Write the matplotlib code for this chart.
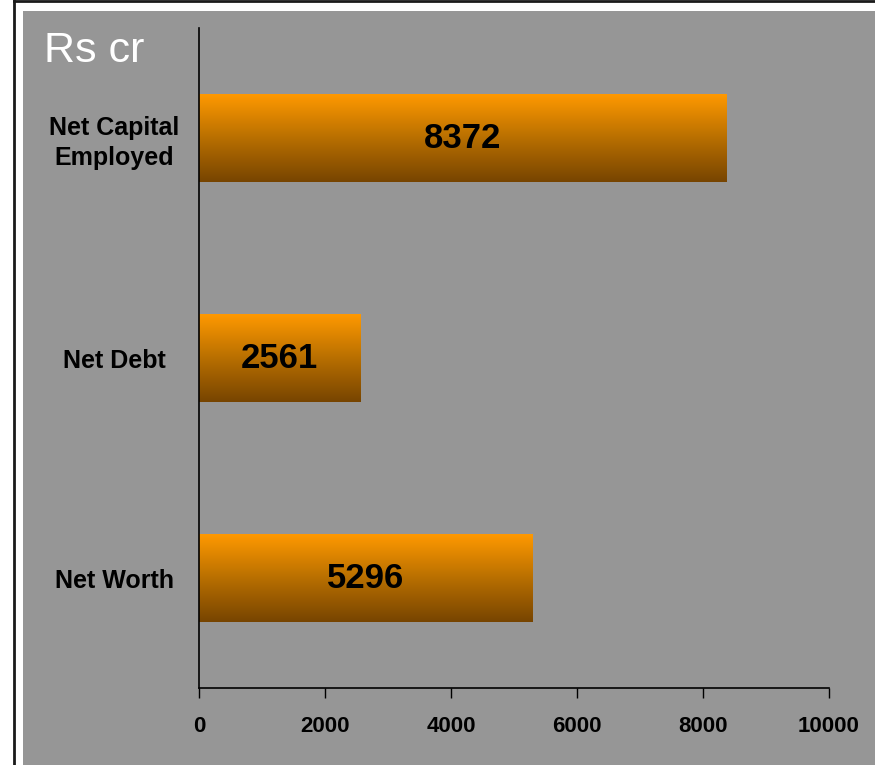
import numpy as np
import matplotlib
matplotlib.use("Agg")
from matplotlib import pyplot as plt
from matplotlib.colors import LinearSegmentedColormap
from matplotlib.patches import Rectangle
from matplotlib.lines import Line2D

plt.rcParams['font.family'] = ['Liberation Sans', 'DejaVu Sans']

# data (bottom to top)
categories = ['Net Worth', 'Net Debt', 'Net Capital\nEmployed']
values = [5296, 2561, 8372]
xticks = [0, 2000, 4000, 6000, 8000, 10000]
unit_label = 'Rs cr'

bg = '#969696'
bar_grad = LinearSegmentedColormap.from_list('bar', ['#774400', '#B86F00', '#FF9900'])

fig = plt.figure(figsize=(8.75, 7.65), dpi=100, facecolor='white')

# gray panel and outer frame
fig.patches.append(Rectangle((23 / 875, 0), 1, 1 - 11 / 765, transform=fig.transFigure,
                             facecolor=bg, edgecolor='none', zorder=-10))
fig.lines.append(Line2D([14 / 875, 14 / 875], [0, 1 - 1 / 765], transform=fig.transFigure,
                        color='#1a1a1a', lw=2, zorder=-5))
fig.lines.append(Line2D([14 / 875, 1], [1 - 1 / 765, 1 - 1 / 765], transform=fig.transFigure,
                        color='#1a1a1a', lw=2, zorder=-5))

ax = fig.add_axes([199 / 875, 1 - 688 / 765, 630 / 875, 660 / 765])
ax.set_facecolor('none')

ypos = np.arange(len(categories))
h = 0.4
grad = np.linspace(0, 1, 256).reshape(-1, 1)
for y, v in zip(ypos, values):
    ax.imshow(grad, cmap=bar_grad, aspect='auto', origin='upper',
              extent=(0, v, y + h / 2, y - h / 2), zorder=2)
    ax.text(v / 2, y, str(v), ha='center', va='center', fontsize=25,
            fontweight='bold', color='black', zorder=3)

ax.set_xlim(0, 10000)
ax.set_ylim(-0.5, 2.5)
ax.set_xticks(xticks)
ax.set_xticklabels([str(t) for t in xticks], fontsize=16, fontweight='bold')
ax.set_yticks(ypos)
ax.set_yticklabels(categories, fontsize=18, fontweight='bold', ha='center',
                   multialignment='center', linespacing=1.3)
ax.tick_params(axis='y', length=0, pad=61)
ax.tick_params(axis='x', length=7, width=1, pad=13)
for s in ['top', 'right']:
    ax.spines[s].set_visible(False)
for s in ['left', 'bottom']:
    ax.spines[s].set_linewidth(1.2)
    ax.spines[s].set_color('black')

fig.text(44 / 875, 1 - 51 / 765, unit_label, fontsize=31, color='white',
         ha='left', va='center')

fig.savefig('out.png', dpi=100, facecolor='white')
